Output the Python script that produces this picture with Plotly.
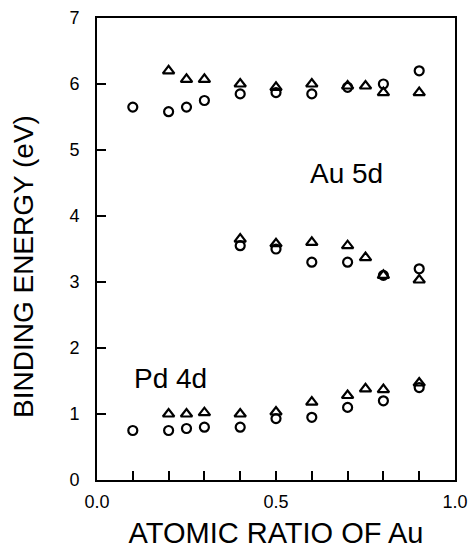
import plotly.graph_objects as go

x_circ = [0.1, 0.2, 0.25, 0.3, 0.4, 0.5, 0.6, 0.7, 0.8, 0.9]
au5d_upper_circ = [5.65, 5.58, 5.65, 5.75, 5.85, 5.87, 5.85, 5.95, 6.0, 6.2]
pd4d_circ = [0.75, 0.75, 0.78, 0.8, 0.8, 0.93, 0.95, 1.1, 1.2, 1.4]
x_circ_mid = [0.4, 0.5, 0.6, 0.7, 0.8, 0.9]
au5d_lower_circ = [3.55, 3.5, 3.3, 3.3, 3.1, 3.2]

x_tri = [0.2, 0.25, 0.3, 0.4, 0.5, 0.6, 0.7, 0.75, 0.8, 0.9]
au5d_upper_tri = [6.2, 6.07, 6.07, 6.0, 5.95, 6.0, 5.97, 5.97, 5.87, 5.87]
pd4d_tri = [1.0, 1.0, 1.02, 1.0, 1.03, 1.18, 1.28, 1.38, 1.37, 1.47]
x_tri_mid = [0.4, 0.5, 0.6, 0.7, 0.75, 0.8, 0.9]
au5d_lower_tri = [3.65, 3.58, 3.6, 3.55, 3.37, 3.1, 3.03]

circ = dict(symbol="circle-open", size=9, color="black", line=dict(width=2.2, color="black"))
tri = dict(symbol="triangle-up-open", size=10, color="black", line=dict(width=2.2, color="black"))

fig = go.Figure()
for xs, ys in [(x_circ, au5d_upper_circ), (x_circ, pd4d_circ), (x_circ_mid, au5d_lower_circ)]:
    fig.add_trace(go.Scatter(x=xs, y=ys, mode="markers", marker=circ, showlegend=False))
for xs, ys in [(x_tri, au5d_upper_tri), (x_tri, pd4d_tri), (x_tri_mid, au5d_lower_tri)]:
    fig.add_trace(go.Scatter(x=xs, y=ys, mode="markers", marker=tri, showlegend=False))

font = "Liberation Sans, Arial, sans-serif"
fig.add_annotation(x=0.697, y=4.65, text="Au 5d", showarrow=False, font=dict(size=28, color="black", family=font))
fig.add_annotation(x=0.205, y=1.54, text="Pd 4d", showarrow=False, font=dict(size=28, color="black", family=font))
fig.add_annotation(xref="paper", yref="paper", x=-0.207, y=0.463, xanchor="center", yanchor="middle",
                   text="BINDING ENERGY (eV)", textangle=-90, showarrow=False,
                   font=dict(size=28, color="black", family=font))

fig.update_layout(
    width=469, height=550,
    margin=dict(l=97, r=14, t=18, b=70, autoexpand=False),
    plot_bgcolor="white", paper_bgcolor="white",
    font=dict(family=font, color="black", size=18),
)
fig.update_xaxes(range=[0, 1], tickvals=[0, 0.5, 1.0], ticktext=["0.0", "0.5", "1.0"],
                 ticks="inside", ticklen=9, tickwidth=2, tickcolor="black",
                 minor=dict(dtick=0.1, ticks="inside", ticklen=9, tickwidth=2, tickcolor="black"),
                 showline=True, linecolor="black", linewidth=2, mirror=True, showgrid=False, zeroline=False,
                 automargin=False, ticklabelstandoff=4,
                 title=dict(text="ATOMIC RATIO OF Au", font=dict(size=29), standoff=12))
fig.update_yaxes(range=[0, 7], dtick=1, ticks="inside", ticklen=9, tickwidth=2, tickcolor="black",
                 showline=True, linecolor="black", linewidth=2, mirror=True, showgrid=False, zeroline=False,
                 automargin=False, ticklabelstandoff=12)
fig.write_html("out.html", config={"displayModeBar": False},
               post_script="document.body.style.margin='0';")
